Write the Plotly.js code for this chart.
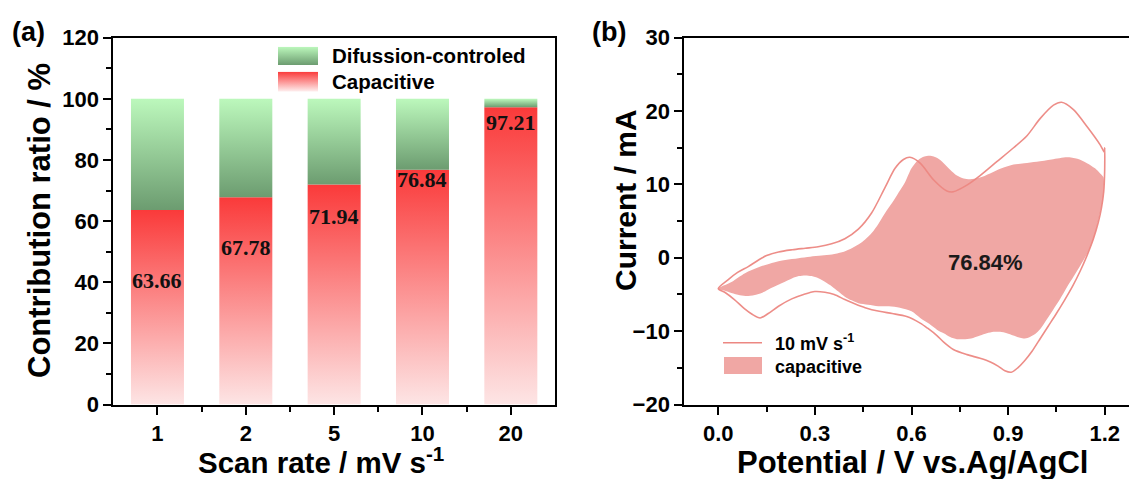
<!DOCTYPE html>
<html>
<head>
<meta charset="utf-8">
<script src="https://cdn.plot.ly/plotly-3.0.1.min.js"></script>
<style>
  html, body { margin: 0; padding: 0; background: #fff; overflow: hidden; }
  #chart { width: 1129px; height: 479px; }
</style>
</head>
<body>
<div id="chart"></div>
<script>
// ---- (a) contribution ratio data ----
const scanRates = ['1', '2', '5', '10', '20'];           // mV s-1
const capacitive = [63.66, 67.78, 71.94, 76.84, 97.21];  // %
const diffusion = [36.34, 32.22, 28.06, 23.16, 2.79];    // %

// ---- (b) CV at 10 mV s-1: full loop (anodic sweep, then cathodic sweep) ----
const cvPotential = [
  0.000, 0.030, 0.060, 0.093, 0.125, 0.150, 0.187, 0.230, 0.270, 0.310,
  0.352, 0.393, 0.435, 0.476, 0.518, 0.549, 0.575, 0.595, 0.627, 0.669,
  0.710, 0.730, 0.772, 0.813, 0.865, 0.917, 0.958, 1.000, 1.041, 1.066,
  1.103, 1.145, 1.186, 1.199, 1.200,
  1.200, 1.197, 1.190, 1.180, 1.165, 1.145, 1.124, 1.100, 1.075, 1.050,
  1.025, 1.000, 0.975, 0.950, 0.930, 0.910, 0.890, 0.870, 0.845, 0.813,
  0.772, 0.730, 0.700, 0.679, 0.650, 0.627, 0.585, 0.540, 0.500, 0.456,
  0.420, 0.393, 0.360, 0.331, 0.300, 0.265, 0.228, 0.187, 0.155, 0.130,
  0.105, 0.080, 0.050, 0.020, 0.000
];
const cvCurrent = [
  -4.2, -3.0, -2.0, -1.2, -0.3, 0.3, 0.8, 1.1, 1.3, 1.5,
  1.9, 2.6, 3.9, 6.1, 9.6, 12.2, 13.4, 13.7, 12.9, 10.6,
  9.1, 9.0, 9.9, 11.2, 13.1, 15.0, 16.6, 19.0, 20.8, 21.2,
  20.2, 17.9, 15.4, 14.4, 15.0,
  12.0, 9.0, 6.8, 4.8, 2.6, 0.3, -1.8, -3.9, -5.8, -7.6,
  -9.3, -11.0, -12.7, -14.1, -15.0, -15.6, -15.4, -14.8, -14.2, -13.7,
  -13.2, -12.5, -11.5, -10.6, -9.6, -8.9, -8.0, -7.6, -7.3, -6.8,
  -6.2, -5.7, -5.0, -4.7, -4.6, -5.0, -5.6, -6.6, -7.6, -8.2,
  -7.7, -6.9, -5.7, -4.7, -4.2
];

// ---- (b) capacitive contribution envelope (closed outline) ----
const capPotential = [
  0.000, 0.041, 0.083, 0.125, 0.166, 0.208, 0.249, 0.285, 0.321, 0.353,
  0.384, 0.410, 0.435, 0.456, 0.477, 0.497, 0.518, 0.540, 0.560, 0.580,
  0.600, 0.620, 0.640, 0.658, 0.680, 0.700, 0.720, 0.741, 0.762, 0.782,
  0.810, 0.844, 0.880, 0.917, 0.950, 0.989, 1.035, 1.083, 1.115, 1.145,
  1.170, 1.186, 1.196,
  1.197, 1.193, 1.185, 1.176, 1.165, 1.145, 1.124, 1.103, 1.083, 1.062,
  1.041, 1.020, 1.000,
  0.984, 0.968, 0.952, 0.937, 0.916, 0.896, 0.875, 0.855, 0.834, 0.813,
  0.785, 0.762, 0.741, 0.720, 0.700, 0.679, 0.655, 0.627, 0.600, 0.564,
  0.530, 0.497, 0.465, 0.435, 0.414, 0.393, 0.373, 0.353, 0.332, 0.311,
  0.290, 0.270, 0.250, 0.230, 0.210, 0.190, 0.166, 0.145, 0.120, 0.093,
  0.067, 0.041, 0.020, 0.000
];
const capCurrent = [
  -4.2, -3.3, -2.1, -1.3, -0.7, -0.3, -0.05, 0.15, 0.3, 0.45,
  0.75, 1.2, 1.8, 2.5, 3.4, 4.6, 6.1, 7.5, 8.9, 10.3,
  12.2, 13.3, 13.8, 13.9, 13.6, 12.9, 12.0, 11.2, 10.8, 10.7,
  10.9, 11.5, 12.2, 12.7, 12.9, 13.1, 13.4, 13.7, 13.5, 12.9,
  12.2, 11.5, 11.0,
  9.0, 7.5, 6.0, 4.3, 2.5, 0.5, -1.1, -2.6, -4.0, -5.6,
  -7.0, -8.4, -9.7,
  -10.4, -10.8, -11.0, -10.9, -10.6, -10.3, -10.1, -10.1, -10.3, -10.6,
  -11.0, -11.1, -11.1, -10.8, -10.3, -9.8, -9.0, -8.2, -7.3, -6.8,
  -6.6, -6.6, -6.4, -6.2, -5.8, -5.3, -4.6, -3.9, -3.3, -2.8,
  -2.5, -2.4, -2.5, -2.8, -3.2, -3.6, -4.1, -4.6, -5.0, -5.2,
  -5.1, -4.8, -4.5, -4.2
];
const capShare = '76.84%';

// ---- styling ----
const W = 1129, H = 479;
const px = v => v / W;          // pixel -> paper x
const py = v => 1 - v / H;      // pixel -> paper y
const SANS = 'Arial, "Liberation Sans", sans-serif';
const SERIF = '"Times New Roman", "Liberation Serif", serif';
const BLACK = '#000';
const RED_TOP = 'rgb(250,58,58)', RED_BOTTOM = 'rgb(253,229,229)';
const GREEN_TOP = 'rgb(188,248,188)', GREEN_BOTTOM = 'rgb(108,156,112)';
const CV_LINE = '#ec8782';
const CAP_FILL = '#f0a7a4';
const barWidth = 0.6;
// heights (in %) at which the capacitive values are printed
const labelY = [40.7, 51.4, 61.6, 73.6, 92.2];

const traces = [];

// gradient-filled stacked bars, one outline per segment
scanRates.forEach((_, i) => {
  const x0 = i - barWidth / 2, x1 = i + barWidth / 2;
  const c = capacitive[i], d = diffusion[i];
  traces.push({
    type: 'scatter', mode: 'lines', xaxis: 'x', yaxis: 'y',
    x: [x0, x1, x1, x0, x0], y: [0, 0, c, c, 0],
    fill: 'toself', line: { width: 0 }, showlegend: false, hoverinfo: 'skip',
    fillgradient: { type: 'vertical', colorscale: [[0, RED_BOTTOM], [1, RED_TOP]] }
  });
  traces.push({
    type: 'scatter', mode: 'lines', xaxis: 'x', yaxis: 'y',
    x: [x0, x1, x1, x0, x0], y: [c, c, c + d, c + d, c],
    fill: 'toself', line: { width: 0 }, showlegend: false, hoverinfo: 'skip',
    fillgradient: { type: 'vertical', colorscale: [[0, GREEN_BOTTOM], [1, GREEN_TOP]] }
  });
});

// capacitive envelope and CV loop
traces.push({
  type: 'scatter', mode: 'lines', xaxis: 'x2', yaxis: 'y2',
  x: capPotential, y: capCurrent, fill: 'toself', fillcolor: CAP_FILL,
  line: { width: 0, shape: 'spline', smoothing: 0.8 }, showlegend: false, hoverinfo: 'skip'
});
traces.push({
  type: 'scatter', mode: 'lines', xaxis: 'x2', yaxis: 'y2',
  x: cvPotential, y: cvCurrent,
  line: { color: CV_LINE, width: 1.6, shape: 'spline', smoothing: 0.8 },
  opacity: 0.95, showlegend: false, hoverinfo: 'skip'
});

const tickFont = { family: SANS, size: 22, color: BLACK, weight: 700 };
const axisCommon = {
  showline: true, linewidth: 2, linecolor: BLACK,
  ticks: 'outside', ticklen: 8, tickwidth: 2, tickcolor: BLACK,
  showgrid: false, zeroline: false, tickfont: tickFont, fixedrange: true
};
const minorCommon = { ticks: 'outside', ticklen: 5, tickwidth: 2, tickcolor: BLACK, showgrid: false };
const yDomain = [py(404.5), py(37.7)];

function gradSwatch(top, bottom) {
  const svg = '<svg xmlns="http://www.w3.org/2000/svg" width="40" height="20" viewBox="0 0 40 20" preserveAspectRatio="none">' +
    '<defs><linearGradient id="g" x1="0" y1="0" x2="0" y2="1">' +
    '<stop offset="0" stop-color="' + top + '"/><stop offset="1" stop-color="' + bottom + '"/>' +
    '</linearGradient></defs><rect width="40" height="20" fill="url(#g)"/></svg>';
  return 'data:image/svg+xml;charset=utf-8,' + encodeURIComponent(svg);
}

const annotations = [];
function note(text, x, y, opts) {
  annotations.push(Object.assign({
    text, x, y, xref: 'paper', yref: 'paper', showarrow: false,
    xanchor: 'center', yanchor: 'middle',
    font: { family: SANS, size: 20, color: BLACK, weight: 700 }
  }, opts || {}));
}

// value labels on the capacitive bars
capacitive.forEach((v, i) => {
  annotations.push({
    text: v.toFixed(2), x: i, y: labelY[i], xref: 'x', yref: 'y', showarrow: false,
    font: { family: SERIF, size: 22, color: '#111', weight: 700 }
  });
});

// panel letters
note('(a)', px(28), py(32), { font: { family: SANS, size: 27, color: BLACK, weight: 700 } });
note('(b)', px(609), py(32), { font: { family: SANS, size: 27, color: BLACK, weight: 700 } });

// axis titles
note('Contribution ratio / %', px(39), py(221), { textangle: -90, font: { family: SANS, size: 31, color: BLACK, weight: 700 } });
note('Scan rate / mV s<sup>-1</sup>', px(321), py(460), { font: { family: SANS, size: 29.5, color: BLACK, weight: 700 } });
note('Current / mA', px(625), py(200), { textangle: -90, font: { family: SANS, size: 30, color: BLACK, weight: 700 } });
note('Potential / V vs.Ag/AgCl', px(912), py(462), { font: { family: SANS, size: 31, color: BLACK, weight: 700 } });

// legend (a)
note('Difussion-controled', px(330), py(56), { xanchor: 'left', font: { family: SANS, size: 20.5, color: BLACK, weight: 700 } });
note('Capacitive', px(330), py(82), { xanchor: 'left', font: { family: SANS, size: 20.5, color: BLACK, weight: 700 } });

// legend (b)
note('10 mV s<sup>-1</sup>', px(773), py(342), { xanchor: 'left', font: { family: SANS, size: 18, color: BLACK, weight: 700 } });
note('capacitive', px(773), py(367), { xanchor: 'left', font: { family: SANS, size: 18, color: BLACK, weight: 700 } });

// share of capacitive current
annotations.push({
  text: capShare, x: 0.83, y: -0.7, xref: 'x2', yref: 'y2', showarrow: false,
  font: { family: SANS, size: 22, color: '#1a1a1a', weight: 700 }
});

const layout = {
  width: W, height: H,
  margin: { l: 0, r: 0, t: 0, b: 0 },
  paper_bgcolor: '#fff', plot_bgcolor: '#fff',
  showlegend: false, hovermode: false,
  xaxis: Object.assign({}, axisCommon, {
    domain: [px(113.3), px(555)], range: [-0.5, 4.5], anchor: 'y',
    tickmode: 'array', tickvals: scanRates.map((_, i) => i), ticktext: scanRates,
    mirror: true,
    minor: Object.assign({ tickmode: 'array', tickvals: [0.5, 1.5, 2.5, 3.5] }, minorCommon)
  }),
  yaxis: Object.assign({}, axisCommon, {
    domain: yDomain, range: [0, 120], anchor: 'x',
    tickmode: 'linear', tick0: 0, dtick: 20, mirror: true,
    minor: Object.assign({ dtick: 10 }, minorCommon)
  }),
  xaxis2: Object.assign({}, axisCommon, {
    domain: [px(684.3), 1], range: [-0.1056, 1.2755], anchor: 'y2',
    tickmode: 'array', tickvals: [0, 0.3, 0.6, 0.9, 1.2], ticktext: ['0.0', '0.3', '0.6', '0.9', '1.2'],
    mirror: true,
    minor: Object.assign({ tickmode: 'array', tickvals: [0.15, 0.45, 0.75, 1.05] }, minorCommon)
  }),
  yaxis2: Object.assign({}, axisCommon, {
    domain: yDomain, range: [-20, 30], anchor: 'x2',
    tickmode: 'linear', tick0: 0, dtick: 10, mirror: false,
    minor: Object.assign({ dtick: 5 }, minorCommon)
  }),
  images: [
    { source: gradSwatch(GREEN_TOP, GREEN_BOTTOM), xref: 'paper', yref: 'paper',
      x: px(278), y: py(46.7), sizex: px(40), sizey: 18.3 / H, sizing: 'stretch',
      xanchor: 'left', yanchor: 'top', layer: 'above' },
    { source: gradSwatch(RED_TOP, 'rgb(254,240,240)'), xref: 'paper', yref: 'paper',
      x: px(278), y: py(71.7), sizex: px(40), sizey: 20 / H, sizing: 'stretch',
      xanchor: 'left', yanchor: 'top', layer: 'above' }
  ],
  shapes: [
    { type: 'line', xref: 'paper', yref: 'paper', x0: px(723), x1: px(762), y0: py(342.7), y1: py(342.7),
      line: { color: CV_LINE, width: 1.6 } },
    { type: 'rect', xref: 'paper', yref: 'paper', x0: px(724), x1: px(762), y0: py(374), y1: py(357),
      fillcolor: CAP_FILL, line: { width: 0 } }
  ],
  annotations
};

Plotly.newPlot('chart', traces, layout, { displayModeBar: false, staticPlot: true });
</script>
</body>
</html>
